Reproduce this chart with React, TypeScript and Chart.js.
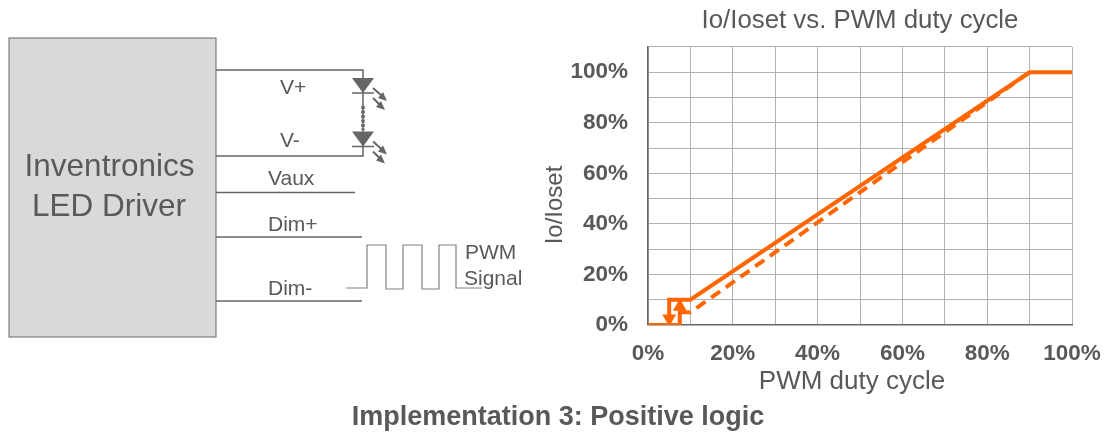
import React, { useEffect, useRef } from "react";
import { Chart, registerables } from "chart.js";

Chart.register(...registerables);

const solidX = [0, 7.5, 7.5, 5, 5, 5, 10, 90, 100];
const solidY = [0, 0, 10, 10, 0, 10, 10, 100, 100];
const dashedX = [7.5, 10, 90];
const dashedY = [5, 5, 100];
const arrowX = [5, 7.5];
const arrowY = [2.6, 7.2];
const arrowRotation = [180, 0];
const labeledTicks = [0, 20, 40, 60, 80, 100];
const chartTitle = "Io/Ioset vs. PWM duty cycle";
const xTitle = "PWM duty cycle";
const yTitle = "Io/Ioset";
const caption = "Implementation 3: Positive logic";
const driverLines = ["Inventronics", "LED Driver"];

const FONT = '"Liberation Sans", Arial, sans-serif';
const TEXT = "#595959";
const ORANGE = "#ff6600";
const WIRE = "#666666";

const pts = (xs: number[], ys: number[]) => xs.map((x, i) => ({ x, y: ys[i] }));
const tickText = (v: number | string) =>
  labeledTicks.includes(Number(v)) ? `${v}%` : "";

function LedSymbol({ y }: { y: number }) {
  const x = 363;
  return (
    <g stroke={WIRE} fill={WIRE}>
      <path d={`M${x - 11} ${y} H${x + 11} L${x} ${y + 15} Z`} stroke="none" />
      <line x1={x - 11} x2={x + 11} y1={y + 15} y2={y + 15} strokeWidth={1.5} />
      <line x1={x + 10} y1={y + 10} x2={x + 19} y2={y + 18} strokeWidth={2} />
      <path d={`M${x + 24} ${y + 23} l-9 -3 l5 -6 Z`} stroke="none" />
      <line x1={x + 10} y1={y + 20} x2={x + 17} y2={y + 27} strokeWidth={2} />
      <path d={`M${x + 22} ${y + 32} l-9 -3 l5 -6 Z`} stroke="none" />
    </g>
  );
}

function Schematic() {
  const label = { fontFamily: FONT, fontSize: 21, fill: TEXT };
  return (
    <svg
      width={1107}
      height={432}
      style={{ position: "absolute", left: 0, top: 0, pointerEvents: "none" }}
    >
      <rect x={9} y={38} width={207} height={299} fill="#d9d9d9" stroke={WIRE} strokeWidth={1} />
      <text x={109.5} y={176} textAnchor="middle" fontFamily={FONT} fontSize={31.5} fill={TEXT}>
        {driverLines[0]}
      </text>
      <text x={109} y={216} textAnchor="middle" fontFamily={FONT} fontSize={31.5} fill={TEXT}>
        {driverLines[1]}
      </text>
      <g stroke={WIRE} strokeWidth={1.5} fill="none">
        <path d="M216 70 H363 V156 H216" />
        <line x1={216} x2={355} y1={192.5} y2={192.5} />
        <line x1={216} x2={362} y1={237} y2={237} />
        <line x1={216} x2={362} y1={301} y2={301} />
      </g>
      <line x1={363} x2={363} y1={106} y2={130} stroke="#666666" strokeWidth={3.5} strokeDasharray="3 1.5" />
      <path
        d="M346 288 H367 V245 H386 V289 H403 V245 H422 V289 H439 V245 H456 V288 H482"
        stroke="#808080"
        strokeWidth={1.2}
        fill="none"
      />
      <LedSymbol y={78} />
      <LedSymbol y={131.5} />
      <text x={280} y={94} {...label}>V+</text>
      <text x={280} y={147} {...label}>V-</text>
      <text x={268} y={185} {...label}>Vaux</text>
      <text x={268} y={231} {...label}>Dim+</text>
      <text x={268} y={295} {...label}>Dim-</text>
      <text x={465} y={259} {...label}>PWM</text>
      <text x={464} y={285} {...label}>Signal</text>
      <text x={558} y={425} textAnchor="middle" fontFamily={FONT} fontSize={27} fontWeight="bold" fill={TEXT}>
        {caption}
      </text>
    </svg>
  );
}

export default function App() {
  const ref = useRef<HTMLCanvasElement>(null);
  useEffect(() => {
    document.body.style.margin = "0";
    const chart = new Chart(ref.current!, {
      type: "scatter",
      data: {
        datasets: [
          {
            label: "Solid",
            data: pts(solidX, solidY),
            showLine: true,
            borderColor: ORANGE,
            borderWidth: 4,
            pointRadius: 0,
            borderJoinStyle: "miter",
          },
          {
            label: "Dashed",
            data: pts(dashedX, dashedY),
            showLine: true,
            borderColor: ORANGE,
            borderWidth: 4,
            borderDash: [11, 7],
            pointRadius: 0,
          },
          {
            label: "Arrows",
            data: pts(arrowX, arrowY),
            showLine: false,
            pointStyle: "triangle",
            pointRadius: 8,
            pointRotation: arrowRotation,
            backgroundColor: ORANGE,
            borderColor: ORANGE,
            borderWidth: 0,
          },
        ],
      },
      options: {
        animation: false,
        responsive: false,
        layout: { padding: { left: 0, right: 35, top: 0, bottom: 37 } },
        plugins: {
          legend: { display: false },
          tooltip: { enabled: false },
          title: {
            display: true,
            text: chartTitle,
            fullSize: false,
            color: TEXT,
            font: { family: FONT, size: 25.8, weight: "normal", lineHeight: 1.2 },
            padding: { top: 5, bottom: 11 },
          },
        },
        scales: {
          x: {
            type: "linear",
            min: 0,
            max: 100,
            afterBuildTicks: (a: any) => {
              a.ticks = Array.from({ length: 11 }, (_, i) => ({ value: i * 10 }));
            },
            afterFit: (a: any) => {
              a.height = 70;
              a.paddingLeft = 0;
              a.paddingRight = 0;
            },
            ticks: {
              callback: tickText,
              autoSkip: false,
              maxRotation: 0,
              color: TEXT,
              padding: 15,
              font: { family: FONT, size: 22.5, weight: "bold" },
            },
            grid: { color: "#b3b3b3", lineWidth: 1, drawTicks: false },
            border: { color: "#666666", width: 1.5 },
            title: { display: false },
          },
          y: {
            type: "linear",
            min: 0,
            max: 110,
            afterBuildTicks: (a: any) => {
              a.ticks = Array.from({ length: 12 }, (_, i) => ({ value: i * 10 }));
            },
            afterFit: (a: any) => {
              a.width = 648;
            },
            ticks: {
              callback: tickText,
              autoSkip: false,
              color: TEXT,
              padding: 20,
              font: { family: FONT, size: 22.5, weight: "bold" },
            },
            grid: { color: "#b3b3b3", lineWidth: 1, drawTicks: false },
            border: { color: "#666666", width: 1.5 },
            title: { display: false },
          },
        },
      },
      plugins: [
        {
          id: "axisTitles",
          afterDraw(c: any) {
            const { ctx, chartArea } = c;
            ctx.save();
            ctx.textAlign = "center";
            ctx.textBaseline = "middle";
            ctx.fillStyle = TEXT;
            ctx.font = `26px ${FONT}`;
            ctx.fillText(xTitle, chartArea.left + 204, chartArea.bottom + 57);
            ctx.translate(555, (chartArea.top + chartArea.bottom) / 2 + 19);
            ctx.rotate(-Math.PI / 2);
            ctx.font = `24px ${FONT}`;
            ctx.fillText(yTitle, 0, 0);
            ctx.restore();
          },
        },
      ],
    } as any);
    return () => chart.destroy();
  }, []);
  return (
    <div style={{ position: "relative", width: 1107, height: 432, overflow: "hidden" }}>
      <canvas ref={ref} width={1107} height={432} style={{ display: "block" }} />
      <Schematic />
    </div>
  );
}
